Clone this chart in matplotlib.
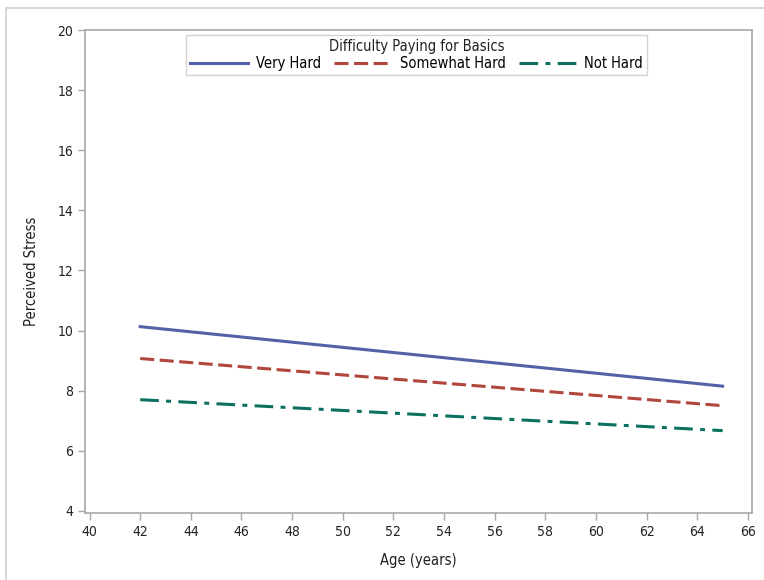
import matplotlib.pyplot as plt
from matplotlib.patches import Rectangle

plt.rcParams['font.family'] = ['DejaVu Sans']
plt.rcParams['font.stretch'] = 'condensed'

# fitted lines, evaluated at the ends of the age range
age = [42, 65]
very_hard = [10.13, 8.15]
somewhat_hard = [9.07, 7.50]
not_hard = [7.70, 6.67]

x_ticks = list(range(40, 67, 2))
y_ticks = list(range(4, 21, 2))

fig = plt.figure(figsize=(7.64, 5.80), dpi=100)
ax = fig.add_axes([85 / 764, 1 - 513 / 580, (752 - 85) / 764, (513 - 30) / 580])

# outer frame of the graph area
fig.patches.append(Rectangle((6 / 764, -0.1), 1.2, 1 - 8 / 580 + 0.1,
                             transform=fig.transFigure, fill=False,
                             edgecolor='#d0d0d0', linewidth=1.2))

lw = 2.2
ax.plot(age, very_hard, color='#5561a6', lw=lw, label='Very Hard')
ax.plot(age, somewhat_hard, color='#b0463c', lw=lw, dashes=(4.6, 1.8), label='Somewhat Hard')
ax.plot(age, not_hard, color='#0b7060', lw=lw, dashes=(6.1, 2.4, 1.6, 2.4), label='Not Hard')

ax.set_xlim(39.82, 66.16)
ax.set_ylim(3.93, 20)
ax.set_xticks(x_ticks)
ax.set_yticks(y_ticks)

for s in ax.spines.values():
    s.set_color('#a8a8a8')
    s.set_linewidth(1.2)
ax.tick_params(colors='#a8a8a8', labelcolor='#222222', labelsize=10, length=5, width=1)

ax.set_xlabel('Age (years)', fontsize=10.5, color='#222222', labelpad=10)
ax.set_ylabel('Perceived Stress', fontsize=10.5, color='#222222', labelpad=13)

leg = ax.legend(title='Difficulty Paying for Basics', ncol=3, loc='upper center',
                bbox_to_anchor=(0.5 - 2 / 667, 1 - 5 / 483), borderaxespad=0,
                fontsize=10.5, title_fontsize=10.5,
                frameon=True, fancybox=False, handlelength=4.0, columnspacing=0.9,
                handletextpad=0.5, borderpad=0.3, labelspacing=0.1)
leg.get_frame().set_edgecolor('#c8c8c8')
leg.get_frame().set_linewidth(1)
leg.get_title().set_color('#222222')

fig.savefig('out.png', dpi=100)
